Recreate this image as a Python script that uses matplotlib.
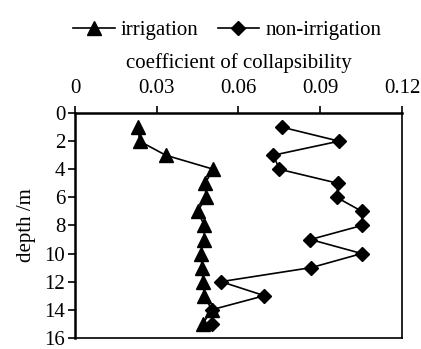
import matplotlib

matplotlib.use("Agg")
import matplotlib.pyplot as plt

# depth (m) and coefficient of collapsibility
depth = [1, 2, 3, 4, 5, 6, 7, 8, 9, 10, 11, 12, 13, 14, 15]
irrigation = [0.0232, 0.0237, 0.0333, 0.0508, 0.0477, 0.0481, 0.0450, 0.0475,
              0.0474, 0.0462, 0.0466, 0.0470, 0.0474, 0.0502, 0.0469]
non_irrigation = [0.0759, 0.0969, 0.0728, 0.0750, 0.0965, 0.0960, 0.1053, 0.1053,
                  0.0864, 0.1052, 0.0867, 0.0536, 0.0695, 0.0502, 0.0504]
xticks = [0, 0.03, 0.06, 0.09, 0.12]
yticks = [0, 2, 4, 6, 8, 10, 12, 14, 16]

plt.rcParams["font.family"] = ["Liberation Serif", "DejaVu Serif"]
plt.rcParams["font.size"] = 15

fig = plt.figure(figsize=(4.21, 3.49), dpi=100)
ax = fig.add_axes([0.178, 0.032, 0.777, 0.644])

ax.plot(irrigation, depth, "-", color="black", lw=1.2, marker="^", ms=9.5,
        label="irrigation")
ax.plot(non_irrigation, depth, "-", color="black", lw=1.2, marker="D", ms=7.5,
        label="non-irrigation")

ax.set_xlim(0, 0.12)
ax.set_ylim(16, 0)
ax.set_xticks(xticks)
ax.set_xticklabels(["0", "0.03", "0.06", "0.09", "0.12"])
ax.set_yticks(yticks)
ax.xaxis.tick_top()
ax.xaxis.set_label_position("top")
ax.tick_params(axis="both", direction="out", length=5, width=1.2)
ax.tick_params(axis="x", pad=6)
ax.tick_params(axis="y", pad=2)
ax.set_xlabel("coefficient of collapsibility", labelpad=8)
ax.set_ylabel("depth /m", labelpad=6)
for side in ["left", "top"]:
    ax.spines[side].set_linewidth(1.8)
for side in ["right", "bottom"]:
    ax.spines[side].set_linewidth(1.2)

leg = fig.legend(loc="upper center", bbox_to_anchor=(0.54, 0.995), ncol=2,
                 frameon=False, handlelength=2.0, columnspacing=0.9,
                 handletextpad=0.3, fontsize=15)

fig.savefig("out.png", dpi=100)
